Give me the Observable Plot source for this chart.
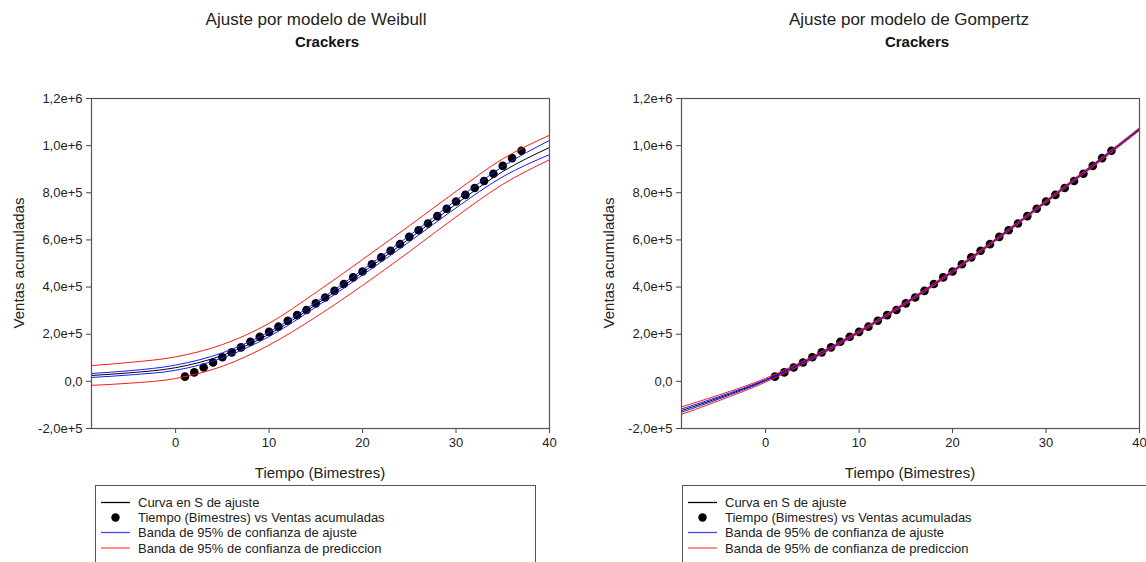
<!DOCTYPE html>
<html><head><meta charset="utf-8">
<script src="https://cdn.jsdelivr.net/npm/d3@7"></script>
<script src="https://cdn.jsdelivr.net/npm/@observablehq/plot@0.6"></script>
<style>
body{margin:0;background:#fff;}
#wrap{position:relative;width:1146px;height:562px;overflow:hidden;background:#fff;font-family:"Liberation Sans",Arial,sans-serif;}
#wrap > svg{position:absolute;top:0;}
</style></head><body><div id="wrap"></div>
<script>
// ---- data ----
const tiempo = [1,2,3,4,5,6,7,8,9,10,11,12,13,14,15,16,17,18,19,20,21,22,23,24,25,26,27,28,29,30,31,32,33,34,35,36,37];
const ventas = [20000,38000,59000,80000,102000,123000,144000,168000,189000,210000,232000,257000,281000,303000,331000,356000,384000,413000,441000,466000,497000,526000,554000,582000,613000,641000,670000,701000,732000,763000,791000,820000,850000,881000,914000,947000,978000];

const curveX = [-9,-5,0,5,10,15,20,25,30,35,40];
// Weibull
const weibullFit   = [25000,36000,58000,110000,200000,325000,462000,605000,752000,890000,992000];
const weibullConfU = [33500,45000,69000,121000,210000,335000,473000,618000,768000,912000,1022000];
const weibullConfL = [16500,27000,47000,99000,190000,315000,451000,592000,736000,868000,962000];
const weibullPredU = [67000,80000,104000,156000,246000,377000,517000,660000,806000,944000,1044000];
const weibullPredL = [-17000,-8000,12000,64000,154000,273000,407000,550000,698000,836000,940000];
// Gompertz
const gompertzFit   = [-124000,-70000,5000,100000,210000,332000,466000,612000,763000,915000,1070000];
const gompertzConfU = [-117000,-65000,8000,102000,212000,334000,468000,614000,765000,917500,1073000];
const gompertzConfL = [-131000,-75000,2000,98000,208000,330000,464000,610000,761000,912500,1067000];
const gompertzPredU = [-108000,-58000,13000,106000,215000,337000,471000,617000,768000,920500,1076000];
const gompertzPredL = [-140000,-82000,-3000,94000,205000,327000,461000,607000,758000,909500,1064000];

const xTicks = [0,10,20,30,40];
const yTicks = [-200000,0,200000,400000,600000,800000,1000000,1200000];
const yTickLabels = ["-2,0e+5","0,0","2,0e+5","4,0e+5","6,0e+5","8,0e+5","1,0e+6","1,2e+6"];

const legendLabels = ["Curva en S de ajuste","Tiempo (Bimestres) vs Ventas acumuladas","Banda de 95% de confianza de ajuste","Banda de 95% de confianza de prediccion"];
const xLabel = "Tiempo (Bimestres)";
const yLabel = "Ventas acumuladas";
const titles = ["Ajuste por modelo de Weibull","Ajuste por modelo de Gompertz"];
const subtitle = "Crackers";

// ---- build ----
const FONT = '"Liberation Sans", Arial, sans-serif';
const points = tiempo.map((t,i)=>({x:t, y:ventas[i]}));
const toLine = arr => curveX.map((x,i)=>({x, y:arr[i]}));

function chart(series, mLeft, mRight){
  const lines = [
    [series.fit, "#000000"],
    [series.confU, "#1a1aff"], [series.confL, "#1a1aff"],
    [series.predU, "#ff1a1a"], [series.predL, "#ff1a1a"]
  ];
  return Plot.plot({
    width: 573, height: 562,
    marginLeft: mLeft, marginRight: mRight, marginTop: 98, marginBottom: 134,
    x: {domain: [-9, 40]},
    y: {domain: [-200000, 1200000]},
    style: {fontFamily: FONT, background: "transparent", color: "#222", overflow: "visible"},
    marks: [
      Plot.axisY({ticks: yTicks, tickFormat: d => yTickLabels[yTicks.indexOf(d)], tickSize: 5, tickPadding: 4, fontSize: 13, label: null, stroke: "#444"}),
      Plot.axisX({ticks: xTicks, tickFormat: d => String(d), tickSize: 5, tickPadding: 4, fontSize: 13, label: null, stroke: "#444"}),
      Plot.dot(points, {x: "x", y: "y", r: 4.3, fill: "#000", stroke: "none"}),
      ...lines.map(([arr, c]) => Plot.line(toLine(arr), {x: "x", y: "y", stroke: c, strokeWidth: 1, curve: "monotone-x"})),
      Plot.frame({stroke: "#555", strokeWidth: 1.2})
    ]
  });
}

const wrap = document.getElementById("wrap");
const left = chart({fit: weibullFit, confU: weibullConfU, confL: weibullConfL, predU: weibullPredU, predL: weibullPredL}, 91, 24);
left.style.left = "0px";
wrap.appendChild(left);
const right = chart({fit: gompertzFit, confU: gompertzConfU, confL: gompertzConfL, predU: gompertzPredU, predL: gompertzPredL}, 108, 7);
right.style.left = "573px";
wrap.appendChild(right);

// ---- overlay text: titles, axis labels, legends ----
const ov = d3.select(wrap).append("svg")
  .attr("width", 1146).attr("height", 562)
  .style("left", "0px").style("pointer-events", "none")
  .attr("font-family", FONT);

[0, 590].forEach((off, k) => {
  ov.append("text").attr("x", 316 + off + (k ? 3 : 0)).attr("y", 25).attr("text-anchor", "middle")
    .attr("font-size", 17).attr("fill", "#222").text(titles[k]);
  ov.append("text").attr("x", 327 + off).attr("y", 47).attr("text-anchor", "middle")
    .attr("font-size", 15).attr("font-weight", "bold").attr("fill", "#111").text(subtitle);
  ov.append("text").attr("x", 320 + off).attr("y", 478).attr("text-anchor", "middle")
    .attr("font-size", 15).attr("fill", "#222").text(xLabel);
  ov.append("text").attr("transform", `translate(${24 + off},263) rotate(-90)`).attr("text-anchor", "middle")
    .attr("font-size", 15).attr("fill", "#222").text(yLabel);

  // legend box
  const bx = k ? 682 : 95;
  const bw = k ? 470 : 440;
  ov.append("rect").attr("x", bx + 0.5).attr("y", 485.5).attr("width", bw).attr("height", 100)
    .attr("fill", "none").attr("stroke", "#555").attr("stroke-width", 1);
  const rowsY = [502.5, 517.5, 532.5, 548];
  const lx0 = bx + 6, lx1 = bx + 35, tx = bx + 43;
  const colors = ["#000", null, "#4444ff", "#ff5555"];
  rowsY.forEach((cy, i) => {
    if (colors[i]) {
      ov.append("line").attr("x1", lx0).attr("x2", lx1).attr("y1", cy).attr("y2", cy)
        .attr("stroke", colors[i]).attr("stroke-width", 1.3);
    } else {
      ov.append("circle").attr("cx", (lx0 + lx1) / 2).attr("cy", cy).attr("r", 4.2).attr("fill", "#000");
    }
    ov.append("text").attr("x", tx).attr("y", cy + 4.5).attr("font-size", 13).attr("fill", "#222").text(legendLabels[i]);
  });
});
</script>
</body></html>
